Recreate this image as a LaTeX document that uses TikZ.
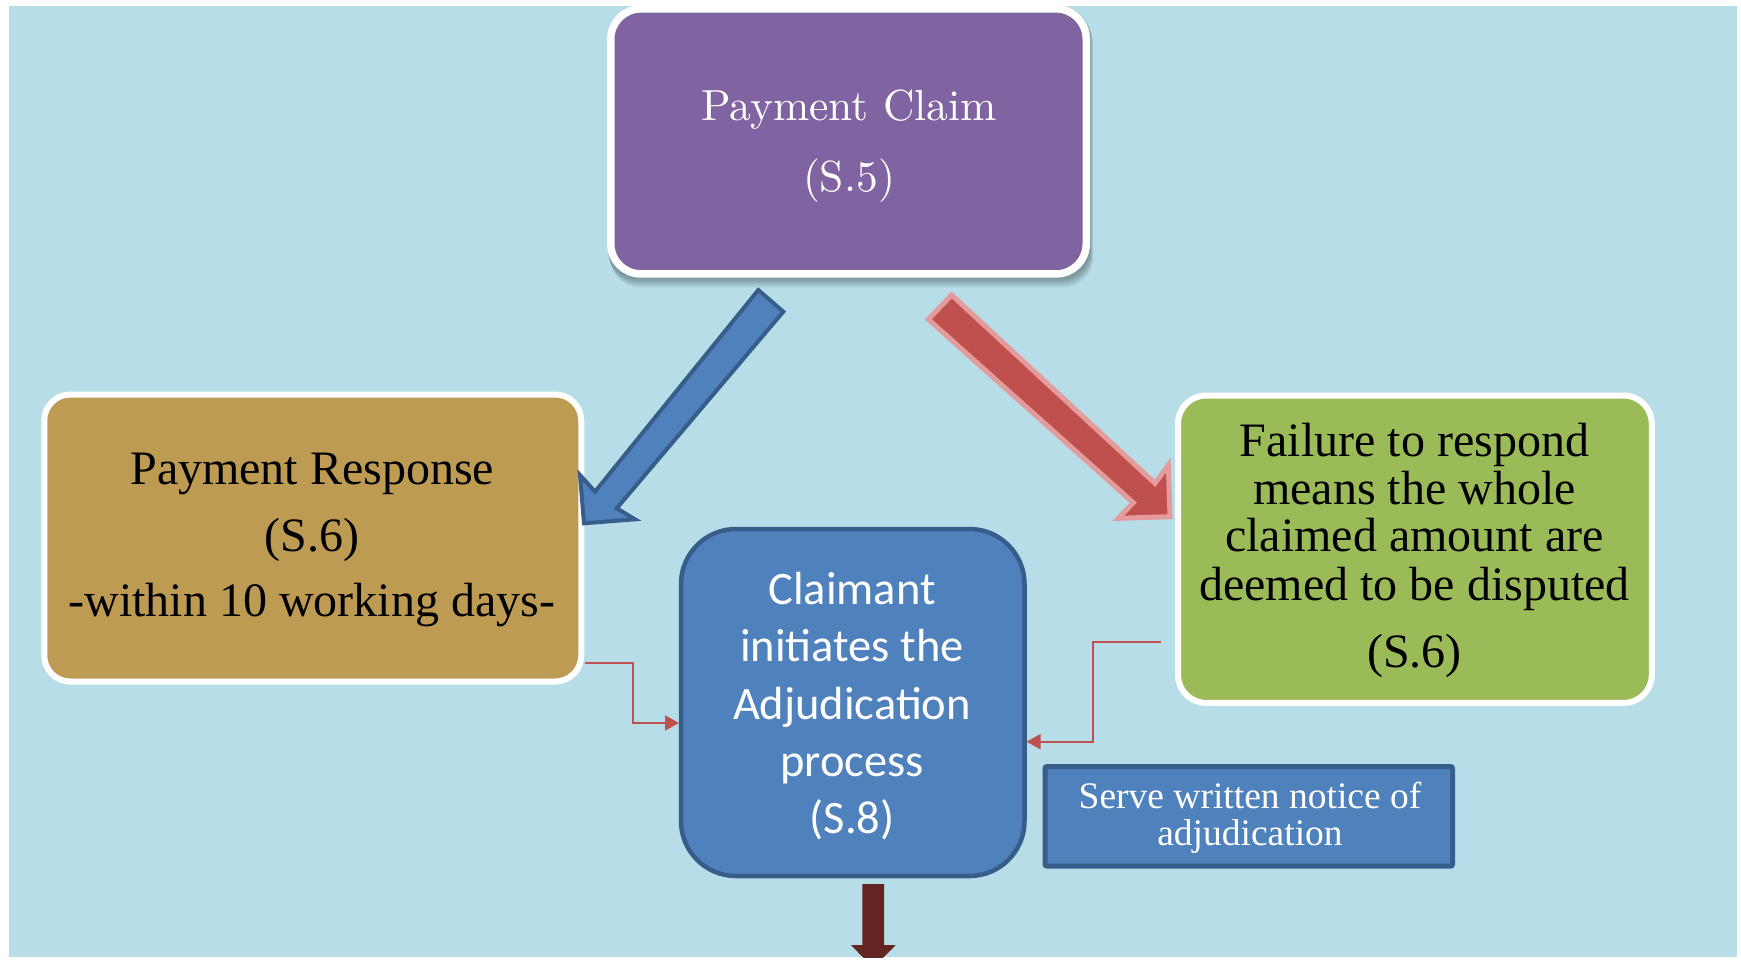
\documentclass[tikz,border=0pt]{standalone}
\usepackage{fontspec}
\newfontfamily\garfont{Liberation Serif}
\newfontfamily\califont{Carlito}
\newfontfamily\lmten{lmroman10-regular}[Extension=.otf]
\usetikzlibrary{arrows.meta}
\definecolor{bgblue}{HTML}{B7DEE8}
\definecolor{purpleC}{HTML}{8064A2}
\definecolor{brownC}{HTML}{BE9B53}
\definecolor{greenC}{HTML}{9BBB59}
\definecolor{blueC}{HTML}{4F81BD}
\definecolor{blueB}{HTML}{385D8A}
\definecolor{redC}{HTML}{C0504D}
\definecolor{pinkC}{HTML}{E39C9B}
\definecolor{darkredC}{HTML}{632523}
\tikzset{
  box/.style={inner sep=0pt, outer sep=0pt},
  whitebox/.style={box, draw=white, line width=6pt, rounded corners=#1},
  ln/.style={anchor=base, inner sep=0pt, outer sep=0pt},
  claimtxt/.style={ln, text=white, font=\lmten\fontsize{43.5pt}{43.5pt}\selectfont},
  gartxt/.style={ln, text=black, font=\garfont\fontsize{48pt}{48pt}\selectfont},
  clmtxt/.style={ln, text=white, font=\califont\fontsize{46.5pt}{46.5pt}\selectfont},
  servetxt/.style={ln, text=white, font=\garfont\fontsize{37.5pt}{37.5pt}\selectfont},
  conn/.style={draw=redC, line width=2pt, -{Triangle[length=14pt,width=15pt]}},
  blockblue/.style={fill=blueC, draw=blueB, line width=4pt, line join=miter},
  blockred/.style={fill=redC, draw=pinkC, line width=5pt, line join=miter},
}
\begin{document}
\begin{tikzpicture}[x=1pt,y=-1pt]
\useasboundingbox (0,0) rectangle (1741,959);
\fill[white] (0,0) rectangle (1741,959);
\fill[bgblue] (9,6) rectangle (1737,957);

% shadow of the top box
\foreach \i in {1,...,8}
  \fill[black, opacity=0.045, rounded corners=30pt]
    (607+0.4*\i, 5+1.2*\i) rectangle (1090+0.4*\i, 278+1.2*\i);

% boxes
\node[whitebox=30pt, fill=purpleC, line width=7.5pt, minimum width=475.5pt, minimum height=265pt] (claim) at (848.5,141.4) {};
\node[whitebox=26pt, fill=brownC, minimum width=537pt, minimum height=287pt] (resp) at (312.75,538) {};
\node[whitebox=28pt, fill=greenC, minimum width=473.75pt, minimum height=307.35pt] (fail) at (1414.9,549.2) {};
\node[box, fill=blueC, draw=blueB, line width=4.5pt, rounded corners=55pt, minimum width=343.5pt, minimum height=347pt] (adj) at (852.75,702.5) {};
\node[box, fill=blueC, draw=blueB, line width=5pt, rounded corners=2pt, minimum width=407.5pt, minimum height=99.7pt] (serve) at (1248.75,816.35) {};

% texts
\node[claimtxt] (claim1) at (849,120.7) {Payment Claim};
\node[claimtxt] (claim2) at (849,191.7) {(S.5)};

\node[gartxt] (resp1) at (312.3,484) {Payment Response};
\node[gartxt] (resp2) at (312.3,551.7) {(S.6)};
\node[gartxt] (resp3) at (311.8,616.7) {-within 10 working days-};

\node[gartxt] (fail1) at (1414.5,456) {Failure to respond};
\node[gartxt] (fail2) at (1414.5,504) {means the whole};
\node[gartxt] (fail3) at (1414.5,551.7) {claimed amount are};
\node[gartxt] (fail4) at (1414.5,600) {deemed to be disputed};
\node[gartxt] (fail5) at (1414.5,667) {(S.6)};

\node[clmtxt] (adj1) at (852,604) {Claimant};
\node[clmtxt] (adj2) at (852,661.7) {initiates the};
\node[clmtxt] (adj3) at (852,719) {Adjudication};
\node[clmtxt] (adj4) at (852,776.7) {process};
\node[clmtxt] (adj5) at (852,833) {(S.8)};

\node[servetxt] (serve1) at (1250,808) {Serve written notice of};
\node[servetxt] (serve2) at (1250,845) {adjudication};

% block arrows
\draw[blockblue] (758.3,290) -- (783.3,311.7) -- (616.7,508.3) -- (635,519.3)
  -- (584,523.3) -- (580,475) -- (595,491.7) -- cycle;
\draw[blockred] (951.7,295) -- (1155,483.3) -- (1168.3,465) -- (1170,516.7)
  -- (1118.3,518.3) -- (1133.3,502.7) -- (928.3,319.3) -- cycle;

\begin{scope}
  \clip (9,6) rectangle (1737,957);
  \fill[darkredC] (862.3,884) -- (884,884) -- (884,945) -- (895.7,945)
    -- (873.2,968) -- (851,945) -- (862.3,945) -- cycle;
\end{scope}

% connectors
\coordinate (c1) at (585,663);
\coordinate (c2) at (1160.5,641.7);
\draw[conn, shorten >=2pt] (c1) -- (633,663) -- (633,723) -- (adj.west |- 0,723);
\draw[conn, shorten >=2pt] (c2) -- (1093,641.7) -- (1093,741.7) -- (adj.east |- 0,741.7);
\end{tikzpicture}
\end{document}
